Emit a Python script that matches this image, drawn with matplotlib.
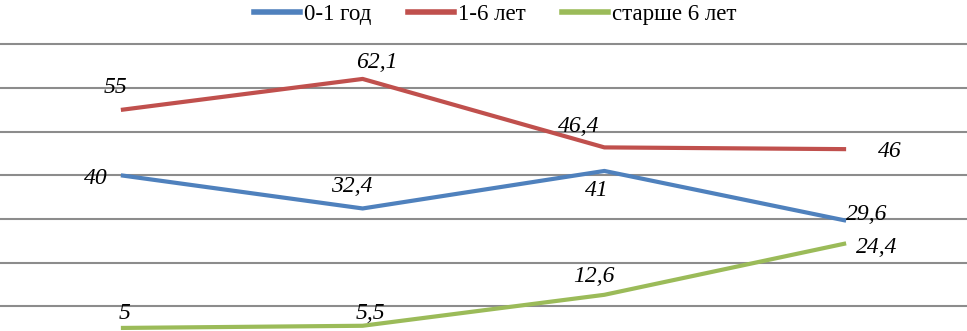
import matplotlib
matplotlib.use("Agg")
import matplotlib.pyplot as plt
from matplotlib.lines import Line2D

categories = ["1", "2", "3", "4"]
series_names = ["0-1 год", "1-6 лет", "старше 6 лет"]
s_0_1 = [40, 32.4, 41, 29.6]
s_1_6 = [55, 62.1, 46.4, 46]
s_6p = [5, 5.5, 12.6, 24.4]
lab_0_1 = ["40", "32,4", "41", "29,6"]
lab_1_6 = ["55", "62,1", "46,4", "46"]
lab_6p = ["5", "5,5", "12,6", "24,4"]
colors = ["#4F81BD", "#C0504D", "#9BBB59"]
grid_vals = [10, 20, 30, 40, 50, 60, 70]

# label offsets in pixels (dx, dy)
off_0_1 = [(-25, -3), (-11, 22), (-8, -20), (21, 6)]
off_1_6 = [(-5, 22), (14, 16), (-26, 21), (44, -2)]
off_6p = [(4, 14), (8, 12), (-10, 18), (31, -4)]

fig = plt.figure(figsize=(9.67, 3.31), dpi=100)
ax = fig.add_axes([0, 0, 1, 1])
ax.set_xlim(-0.5, 3.5)
ax.set_ylim(4.3, 80.2)
for g in grid_vals:
    ax.axhline(g, color="#8c8c8c", lw=1.5, zorder=1)

x = list(range(len(categories)))
for vals, labs, offs, c in [(s_0_1, lab_0_1, off_0_1, colors[0]),
                            (s_1_6, lab_1_6, off_1_6, colors[1]),
                            (s_6p, lab_6p, off_6p, colors[2])]:
    ax.plot(x, vals, color=c, lw=3, solid_capstyle="butt", zorder=3)
    for xi, v, l, (dx, dy) in zip(x, vals, labs, offs):
        ax.annotate(l, (xi, v), xytext=(dx, dy), textcoords="offset pixels",
                    ha="center", va="center", fontsize=17, style="italic",
                    family="Liberation Serif", zorder=4)

for s in ax.spines.values():
    s.set_visible(False)
ax.set_xticks([])
ax.set_yticks([])

handles = [Line2D([], [], color=c, lw=4) for c in colors]
fig.legend(handles, series_names, loc="center", bbox_to_anchor=(0.512, 0.955),
           ncol=3, frameon=False, handlelength=2.0, handletextpad=0.17,
           columnspacing=1.6, prop={"family": "Liberation Serif", "size": 16.5})

fig.savefig("out.png", dpi=100)
